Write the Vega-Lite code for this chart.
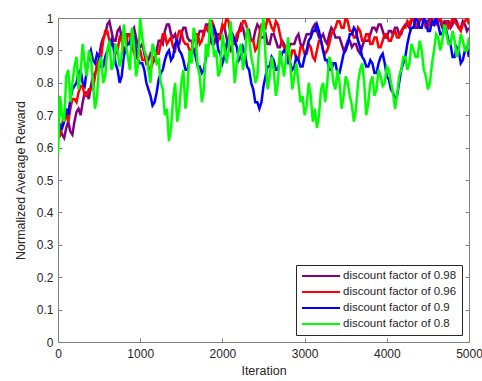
{
"$schema": "https://vega.github.io/schema/vega-lite/v6.json",
"width": 411, "height": 324,
"autosize": {"type": "none"},
"padding": {"left": 58, "top": 18, "right": 13, "bottom": 39},
"background": "white",
"config": {
  "view": {"stroke": "#808080", "strokeWidth": 1},
  "font": "Liberation Sans",
  "axis": {"labelFont": "Liberation Sans", "titleFont": "Liberation Sans", "labelFontSize": 12, "titleFontSize": 12.5, "titleFontWeight": "normal", "labelColor": "#262626", "titleColor": "#262626", "domainColor": "#808080", "tickColor": "#808080", "grid": false, "tickSize": -4}
},
"resolve": {"axis": {"x": "independent", "y": "independent"}},
"data": {"values": [
{"t":0,"s":"0.98","v":0.63},{"t":25,"s":"0.98","v":0.66},{"t":50,"s":"0.98","v":0.64},{"t":75,"s":"0.98","v":0.63},{"t":100,"s":"0.98","v":0.66},{"t":125,"s":"0.98","v":0.68},{"t":150,"s":"0.98","v":0.65},{"t":175,"s":"0.98","v":0.64},{"t":200,"s":"0.98","v":0.68},{"t":225,"s":"0.98","v":0.71},{"t":250,"s":"0.98","v":0.72},{"t":275,"s":"0.98","v":0.7},{"t":300,"s":"0.98","v":0.74},{"t":325,"s":"0.98","v":0.77},{"t":350,"s":"0.98","v":0.77},{"t":375,"s":"0.98","v":0.75},{"t":400,"s":"0.98","v":0.79},{"t":425,"s":"0.98","v":0.82},{"t":450,"s":"0.98","v":0.83},{"t":475,"s":"0.98","v":0.84},
{"t":500,"s":"0.98","v":0.88},{"t":525,"s":"0.98","v":0.92},{"t":550,"s":"0.98","v":0.94},{"t":575,"s":"0.98","v":0.95},{"t":600,"s":"0.98","v":0.98},{"t":625,"s":"0.98","v":0.99},{"t":650,"s":"0.98","v":0.96},{"t":675,"s":"0.98","v":0.93},{"t":700,"s":"0.98","v":0.93},{"t":725,"s":"0.98","v":0.96},{"t":750,"s":"0.98","v":0.97},{"t":775,"s":"0.98","v":0.94},{"t":800,"s":"0.98","v":0.95},{"t":825,"s":"0.98","v":0.95},{"t":850,"s":"0.98","v":0.92},{"t":875,"s":"0.98","v":0.92},{"t":900,"s":"0.98","v":0.96},{"t":925,"s":"0.98","v":0.97},{"t":950,"s":"0.98","v":0.94},{"t":975,"s":"0.98","v":0.91},
{"t":1000,"s":"0.98","v":0.91},{"t":1025,"s":"0.98","v":0.92},{"t":1050,"s":"0.98","v":0.89},{"t":1075,"s":"0.98","v":0.86},{"t":1100,"s":"0.98","v":0.87},{"t":1125,"s":"0.98","v":0.89},{"t":1150,"s":"0.98","v":0.88},{"t":1175,"s":"0.98","v":0.87},{"t":1200,"s":"0.98","v":0.9},{"t":1225,"s":"0.98","v":0.93},{"t":1250,"s":"0.98","v":0.93},{"t":1275,"s":"0.98","v":0.92},{"t":1300,"s":"0.98","v":0.96},{"t":1325,"s":"0.98","v":0.98},{"t":1350,"s":"0.98","v":0.98},{"t":1375,"s":"0.98","v":0.95},{"t":1400,"s":"0.98","v":0.94},{"t":1425,"s":"0.98","v":0.95},{"t":1450,"s":"0.98","v":0.92},{"t":1475,"s":"0.98","v":0.92},
{"t":1500,"s":"0.98","v":0.95},{"t":1525,"s":"0.98","v":0.97},{"t":1550,"s":"0.98","v":0.97},{"t":1575,"s":"0.98","v":0.94},{"t":1600,"s":"0.98","v":0.93},{"t":1625,"s":"0.98","v":0.93},{"t":1650,"s":"0.98","v":0.9},{"t":1675,"s":"0.98","v":0.9},{"t":1700,"s":"0.98","v":0.94},{"t":1725,"s":"0.98","v":0.96},{"t":1750,"s":"0.98","v":0.96},{"t":1775,"s":"0.98","v":0.95},{"t":1800,"s":"0.98","v":0.98},{"t":1825,"s":"0.98","v":0.98},{"t":1850,"s":"0.98","v":0.95},{"t":1875,"s":"0.98","v":0.92},{"t":1900,"s":"0.98","v":0.92},{"t":1925,"s":"0.98","v":0.95},{"t":1950,"s":"0.98","v":0.95},{"t":1975,"s":"0.98","v":0.94},
{"t":2000,"s":"0.98","v":0.97},{"t":2025,"s":"0.98","v":0.97},{"t":2050,"s":"0.98","v":0.94},{"t":2075,"s":"0.98","v":0.91},{"t":2100,"s":"0.98","v":0.9},{"t":2125,"s":"0.98","v":0.93},{"t":2150,"s":"0.98","v":0.93},{"t":2175,"s":"0.98","v":0.93},{"t":2200,"s":"0.98","v":0.96},{"t":2225,"s":"0.98","v":0.98},{"t":2250,"s":"0.98","v":0.97},{"t":2275,"s":"0.98","v":0.94},{"t":2300,"s":"0.98","v":0.95},{"t":2325,"s":"0.98","v":0.96},{"t":2350,"s":"0.98","v":0.93},{"t":2375,"s":"0.98","v":0.93},{"t":2400,"s":"0.98","v":0.96},{"t":2425,"s":"0.98","v":0.98},{"t":2450,"s":"0.98","v":0.97},{"t":2475,"s":"0.98","v":0.94},
{"t":2500,"s":"0.98","v":0.94},{"t":2525,"s":"0.98","v":0.95},{"t":2550,"s":"0.98","v":0.92},{"t":2575,"s":"0.98","v":0.92},{"t":2600,"s":"0.98","v":0.95},{"t":2625,"s":"0.98","v":0.95},{"t":2650,"s":"0.98","v":0.93},{"t":2675,"s":"0.98","v":0.91},{"t":2700,"s":"0.98","v":0.91},{"t":2725,"s":"0.98","v":0.93},{"t":2750,"s":"0.98","v":0.92},{"t":2775,"s":"0.98","v":0.9},{"t":2800,"s":"0.98","v":0.9},{"t":2825,"s":"0.98","v":0.92},{"t":2850,"s":"0.98","v":0.92},{"t":2875,"s":"0.98","v":0.92},{"t":2900,"s":"0.98","v":0.94},{"t":2925,"s":"0.98","v":0.95},{"t":2950,"s":"0.98","v":0.92},{"t":2975,"s":"0.98","v":0.91},
{"t":3000,"s":"0.98","v":0.93},{"t":3025,"s":"0.98","v":0.95},{"t":3050,"s":"0.98","v":0.95},{"t":3075,"s":"0.98","v":0.95},{"t":3100,"s":"0.98","v":0.97},{"t":3125,"s":"0.98","v":0.98},{"t":3150,"s":"0.98","v":0.96},{"t":3175,"s":"0.98","v":0.94},{"t":3200,"s":"0.98","v":0.94},{"t":3225,"s":"0.98","v":0.95},{"t":3250,"s":"0.98","v":0.93},{"t":3275,"s":"0.98","v":0.92},{"t":3300,"s":"0.98","v":0.95},{"t":3325,"s":"0.98","v":0.97},{"t":3350,"s":"0.98","v":0.96},{"t":3375,"s":"0.98","v":0.94},{"t":3400,"s":"0.98","v":0.94},{"t":3425,"s":"0.98","v":0.94},{"t":3450,"s":"0.98","v":0.92},{"t":3475,"s":"0.98","v":0.9},
{"t":3500,"s":"0.98","v":0.91},{"t":3525,"s":"0.98","v":0.93},{"t":3550,"s":"0.98","v":0.93},{"t":3575,"s":"0.98","v":0.91},{"t":3600,"s":"0.98","v":0.92},{"t":3625,"s":"0.98","v":0.92},{"t":3650,"s":"0.98","v":0.9},{"t":3675,"s":"0.98","v":0.89},{"t":3700,"s":"0.98","v":0.91},{"t":3725,"s":"0.98","v":0.93},{"t":3750,"s":"0.98","v":0.93},{"t":3775,"s":"0.98","v":0.93},{"t":3800,"s":"0.98","v":0.95},{"t":3825,"s":"0.98","v":0.97},{"t":3850,"s":"0.98","v":0.97},{"t":3875,"s":"0.98","v":0.96},{"t":3900,"s":"0.98","v":0.98},{"t":3925,"s":"0.98","v":0.98},{"t":3950,"s":"0.98","v":0.96},{"t":3975,"s":"0.98","v":0.94},
{"t":4000,"s":"0.98","v":0.94},{"t":4025,"s":"0.98","v":0.96},{"t":4050,"s":"0.98","v":0.96},{"t":4075,"s":"0.98","v":0.95},{"t":4100,"s":"0.98","v":0.97},{"t":4125,"s":"0.98","v":0.97},{"t":4150,"s":"0.98","v":0.95},{"t":4175,"s":"0.98","v":0.95},{"t":4200,"s":"0.98","v":0.97},{"t":4225,"s":"0.98","v":0.98},{"t":4250,"s":"0.98","v":0.98},{"t":4275,"s":"0.98","v":0.97},{"t":4300,"s":"0.98","v":0.99},{"t":4325,"s":"0.98","v":1.0},{"t":4350,"s":"0.98","v":0.97},{"t":4375,"s":"0.98","v":0.97},{"t":4400,"s":"0.98","v":0.99},{"t":4425,"s":"0.98","v":1.0},{"t":4450,"s":"0.98","v":1.0},{"t":4475,"s":"0.98","v":0.98},
{"t":4500,"s":"0.98","v":0.99},{"t":4525,"s":"0.98","v":1.0},{"t":4550,"s":"0.98","v":0.98},{"t":4575,"s":"0.98","v":0.98},{"t":4600,"s":"0.98","v":1.0},{"t":4625,"s":"0.98","v":1.0},{"t":4650,"s":"0.98","v":0.99},{"t":4675,"s":"0.98","v":0.97},{"t":4700,"s":"0.98","v":0.97},{"t":4725,"s":"0.98","v":0.99},{"t":4750,"s":"0.98","v":0.99},{"t":4775,"s":"0.98","v":0.97},{"t":4800,"s":"0.98","v":0.98},{"t":4825,"s":"0.98","v":1.0},{"t":4850,"s":"0.98","v":0.99},{"t":4875,"s":"0.98","v":0.97},{"t":4900,"s":"0.98","v":0.97},{"t":4925,"s":"0.98","v":0.99},{"t":4950,"s":"0.98","v":0.98},{"t":4975,"s":"0.98","v":0.96},{"t":5000,"s":"0.98","v":0.97},

{"t":0,"s":"0.96","v":0.65},{"t":25,"s":"0.96","v":0.64},{"t":50,"s":"0.96","v":0.67},{"t":75,"s":"0.96","v":0.7},{"t":100,"s":"0.96","v":0.7},{"t":125,"s":"0.96","v":0.68},{"t":150,"s":"0.96","v":0.72},{"t":175,"s":"0.96","v":0.75},{"t":200,"s":"0.96","v":0.75},{"t":225,"s":"0.96","v":0.74},{"t":250,"s":"0.96","v":0.77},{"t":275,"s":"0.96","v":0.79},{"t":300,"s":"0.96","v":0.79},{"t":325,"s":"0.96","v":0.76},{"t":350,"s":"0.96","v":0.76},{"t":375,"s":"0.96","v":0.78},{"t":400,"s":"0.96","v":0.78},{"t":425,"s":"0.96","v":0.78},{"t":450,"s":"0.96","v":0.82},{"t":475,"s":"0.96","v":0.86},
{"t":500,"s":"0.96","v":0.87},{"t":525,"s":"0.96","v":0.88},{"t":550,"s":"0.96","v":0.93},{"t":575,"s":"0.96","v":0.96},{"t":600,"s":"0.96","v":0.96},{"t":625,"s":"0.96","v":0.93},{"t":650,"s":"0.96","v":0.92},{"t":675,"s":"0.96","v":0.92},{"t":700,"s":"0.96","v":0.89},{"t":725,"s":"0.96","v":0.9},{"t":750,"s":"0.96","v":0.94},{"t":775,"s":"0.96","v":0.93},{"t":800,"s":"0.96","v":0.9},{"t":825,"s":"0.96","v":0.91},{"t":850,"s":"0.96","v":0.95},{"t":875,"s":"0.96","v":0.95},{"t":900,"s":"0.96","v":0.92},{"t":925,"s":"0.96","v":0.89},{"t":950,"s":"0.96","v":0.88},{"t":975,"s":"0.96","v":0.9},
{"t":1000,"s":"0.96","v":0.9},{"t":1025,"s":"0.96","v":0.87},{"t":1050,"s":"0.96","v":0.87},{"t":1075,"s":"0.96","v":0.88},{"t":1100,"s":"0.96","v":0.85},{"t":1125,"s":"0.96","v":0.84},{"t":1150,"s":"0.96","v":0.86},{"t":1175,"s":"0.96","v":0.88},{"t":1200,"s":"0.96","v":0.89},{"t":1225,"s":"0.96","v":0.89},{"t":1250,"s":"0.96","v":0.92},{"t":1275,"s":"0.96","v":0.95},{"t":1300,"s":"0.96","v":0.95},{"t":1325,"s":"0.96","v":0.92},{"t":1350,"s":"0.96","v":0.93},{"t":1375,"s":"0.96","v":0.94},{"t":1400,"s":"0.96","v":0.91},{"t":1425,"s":"0.96","v":0.9},{"t":1450,"s":"0.96","v":0.94},{"t":1475,"s":"0.96","v":0.96},
{"t":1500,"s":"0.96","v":0.96},{"t":1525,"s":"0.96","v":0.93},{"t":1550,"s":"0.96","v":0.92},{"t":1575,"s":"0.96","v":0.92},{"t":1600,"s":"0.96","v":0.9},{"t":1625,"s":"0.96","v":0.9},{"t":1650,"s":"0.96","v":0.93},{"t":1675,"s":"0.96","v":0.95},{"t":1700,"s":"0.96","v":0.95},{"t":1725,"s":"0.96","v":0.92},{"t":1750,"s":"0.96","v":0.93},{"t":1775,"s":"0.96","v":0.96},{"t":1800,"s":"0.96","v":0.97},{"t":1825,"s":"0.96","v":0.96},{"t":1850,"s":"0.96","v":0.99},{"t":1875,"s":"0.96","v":0.99},{"t":1900,"s":"0.96","v":0.96},{"t":1925,"s":"0.96","v":0.94},{"t":1950,"s":"0.96","v":0.93},{"t":1975,"s":"0.96","v":0.95},
{"t":2000,"s":"0.96","v":0.98},{"t":2025,"s":"0.96","v":0.97},{"t":2050,"s":"0.96","v":1.0},{"t":2075,"s":"0.96","v":0.99},{"t":2100,"s":"0.96","v":0.95},{"t":2125,"s":"0.96","v":0.92},{"t":2150,"s":"0.96","v":0.92},{"t":2175,"s":"0.96","v":0.95},{"t":2200,"s":"0.96","v":0.96},{"t":2225,"s":"0.96","v":0.96},{"t":2250,"s":"0.96","v":0.99},{"t":2275,"s":"0.96","v":0.99},{"t":2300,"s":"0.96","v":0.97},{"t":2325,"s":"0.96","v":0.94},{"t":2350,"s":"0.96","v":0.93},{"t":2375,"s":"0.96","v":0.93},{"t":2400,"s":"0.96","v":0.9},{"t":2425,"s":"0.96","v":0.91},{"t":2450,"s":"0.96","v":0.95},{"t":2475,"s":"0.96","v":0.98},
{"t":2500,"s":"0.96","v":0.98},{"t":2525,"s":"0.96","v":0.97},{"t":2550,"s":"0.96","v":1.0},{"t":2575,"s":"0.96","v":0.99},{"t":2600,"s":"0.96","v":0.97},{"t":2625,"s":"0.96","v":0.96},{"t":2650,"s":"0.96","v":0.99},{"t":2675,"s":"0.96","v":0.98},{"t":2700,"s":"0.96","v":0.95},{"t":2725,"s":"0.96","v":0.92},{"t":2750,"s":"0.96","v":0.91},{"t":2775,"s":"0.96","v":0.9},{"t":2800,"s":"0.96","v":0.88},{"t":2825,"s":"0.96","v":0.87},{"t":2850,"s":"0.96","v":0.9},{"t":2875,"s":"0.96","v":0.9},{"t":2900,"s":"0.96","v":0.87},{"t":2925,"s":"0.96","v":0.87},{"t":2950,"s":"0.96","v":0.91},{"t":2975,"s":"0.96","v":0.91},
{"t":3000,"s":"0.96","v":0.89},{"t":3025,"s":"0.96","v":0.89},{"t":3050,"s":"0.96","v":0.92},{"t":3075,"s":"0.96","v":0.91},{"t":3100,"s":"0.96","v":0.88},{"t":3125,"s":"0.96","v":0.87},{"t":3150,"s":"0.96","v":0.9},{"t":3175,"s":"0.96","v":0.93},{"t":3200,"s":"0.96","v":0.93},{"t":3225,"s":"0.96","v":0.9},{"t":3250,"s":"0.96","v":0.89},{"t":3275,"s":"0.96","v":0.9},{"t":3300,"s":"0.96","v":0.92},{"t":3325,"s":"0.96","v":0.95},{"t":3350,"s":"0.96","v":0.96},{"t":3375,"s":"0.96","v":0.97},{"t":3400,"s":"0.96","v":0.99},{"t":3425,"s":"0.96","v":0.99},{"t":3450,"s":"0.96","v":0.97},{"t":3475,"s":"0.96","v":0.97},
{"t":3500,"s":"0.96","v":1.0},{"t":3525,"s":"0.96","v":0.99},{"t":3550,"s":"0.96","v":0.96},{"t":3575,"s":"0.96","v":0.96},{"t":3600,"s":"0.96","v":0.94},{"t":3625,"s":"0.96","v":0.94},{"t":3650,"s":"0.96","v":0.97},{"t":3675,"s":"0.96","v":0.96},{"t":3700,"s":"0.96","v":0.93},{"t":3725,"s":"0.96","v":0.93},{"t":3750,"s":"0.96","v":0.95},{"t":3775,"s":"0.96","v":0.95},{"t":3800,"s":"0.96","v":0.92},{"t":3825,"s":"0.96","v":0.92},{"t":3850,"s":"0.96","v":0.94},{"t":3875,"s":"0.96","v":0.94},{"t":3900,"s":"0.96","v":0.91},{"t":3925,"s":"0.96","v":0.91},{"t":3950,"s":"0.96","v":0.93},{"t":3975,"s":"0.96","v":0.95},
{"t":4000,"s":"0.96","v":0.95},{"t":4025,"s":"0.96","v":0.93},{"t":4050,"s":"0.96","v":0.93},{"t":4075,"s":"0.96","v":0.95},{"t":4100,"s":"0.96","v":0.96},{"t":4125,"s":"0.96","v":0.94},{"t":4150,"s":"0.96","v":0.94},{"t":4175,"s":"0.96","v":0.96},{"t":4200,"s":"0.96","v":0.97},{"t":4225,"s":"0.96","v":0.97},{"t":4250,"s":"0.96","v":0.99},{"t":4275,"s":"0.96","v":0.98},{"t":4300,"s":"0.96","v":1.0},{"t":4325,"s":"0.96","v":1.0},{"t":4350,"s":"0.96","v":0.98},{"t":4375,"s":"0.96","v":0.98},{"t":4400,"s":"0.96","v":1.0},{"t":4425,"s":"0.96","v":1.0},{"t":4450,"s":"0.96","v":0.99},{"t":4475,"s":"0.96","v":0.97},
{"t":4500,"s":"0.96","v":0.97},{"t":4525,"s":"0.96","v":0.99},{"t":4550,"s":"0.96","v":1.0},{"t":4575,"s":"0.96","v":0.98},{"t":4600,"s":"0.96","v":0.98},{"t":4625,"s":"0.96","v":1.0},{"t":4650,"s":"0.96","v":1.0},{"t":4675,"s":"0.96","v":0.98},{"t":4700,"s":"0.96","v":0.99},{"t":4725,"s":"0.96","v":0.99},{"t":4750,"s":"0.96","v":0.97},{"t":4775,"s":"0.96","v":0.98},{"t":4800,"s":"0.96","v":1.0},{"t":4825,"s":"0.96","v":0.99},{"t":4850,"s":"0.96","v":0.98},{"t":4875,"s":"0.96","v":0.97},{"t":4900,"s":"0.96","v":0.96},{"t":4925,"s":"0.96","v":0.98},{"t":4950,"s":"0.96","v":0.99},{"t":4975,"s":"0.96","v":1.0},{"t":5000,"s":"0.96","v":0.98},

{"t":0,"s":"0.9","v":0.63},{"t":25,"s":"0.9","v":0.67},{"t":50,"s":"0.9","v":0.66},{"t":75,"s":"0.9","v":0.68},{"t":100,"s":"0.9","v":0.72},{"t":125,"s":"0.9","v":0.7},{"t":150,"s":"0.9","v":0.75},{"t":175,"s":"0.9","v":0.78},{"t":200,"s":"0.9","v":0.79},{"t":225,"s":"0.9","v":0.8},{"t":250,"s":"0.9","v":0.83},{"t":275,"s":"0.9","v":0.84},{"t":300,"s":"0.9","v":0.8},{"t":325,"s":"0.9","v":0.79},{"t":350,"s":"0.9","v":0.84},{"t":375,"s":"0.9","v":0.88},{"t":400,"s":"0.9","v":0.9},{"t":425,"s":"0.9","v":0.87},{"t":450,"s":"0.9","v":0.86},{"t":475,"s":"0.9","v":0.89},
{"t":500,"s":"0.9","v":0.88},{"t":525,"s":"0.9","v":0.85},{"t":550,"s":"0.9","v":0.85},{"t":575,"s":"0.9","v":0.88},{"t":600,"s":"0.9","v":0.9},{"t":625,"s":"0.9","v":0.9},{"t":650,"s":"0.9","v":0.93},{"t":675,"s":"0.9","v":0.91},{"t":700,"s":"0.9","v":0.86},{"t":725,"s":"0.9","v":0.84},{"t":750,"s":"0.9","v":0.8},{"t":775,"s":"0.9","v":0.82},{"t":800,"s":"0.9","v":0.88},{"t":825,"s":"0.9","v":0.91},{"t":850,"s":"0.9","v":0.92},{"t":875,"s":"0.9","v":0.92},{"t":900,"s":"0.9","v":0.95},{"t":925,"s":"0.9","v":0.94},{"t":950,"s":"0.9","v":0.9},{"t":975,"s":"0.9","v":0.87},
{"t":1000,"s":"0.9","v":0.86},{"t":1025,"s":"0.9","v":0.86},{"t":1050,"s":"0.9","v":0.84},{"t":1075,"s":"0.9","v":0.8},{"t":1100,"s":"0.9","v":0.78},{"t":1125,"s":"0.9","v":0.76},{"t":1150,"s":"0.9","v":0.73},{"t":1175,"s":"0.9","v":0.74},{"t":1200,"s":"0.9","v":0.77},{"t":1225,"s":"0.9","v":0.81},{"t":1250,"s":"0.9","v":0.83},{"t":1275,"s":"0.9","v":0.84},{"t":1300,"s":"0.9","v":0.87},{"t":1325,"s":"0.9","v":0.89},{"t":1350,"s":"0.9","v":0.9},{"t":1375,"s":"0.9","v":0.87},{"t":1400,"s":"0.9","v":0.88},{"t":1425,"s":"0.9","v":0.92},{"t":1450,"s":"0.9","v":0.93},{"t":1475,"s":"0.9","v":0.9},
{"t":1500,"s":"0.9","v":0.89},{"t":1525,"s":"0.9","v":0.87},{"t":1550,"s":"0.9","v":0.84},{"t":1575,"s":"0.9","v":0.84},{"t":1600,"s":"0.9","v":0.87},{"t":1625,"s":"0.9","v":0.89},{"t":1650,"s":"0.9","v":0.9},{"t":1675,"s":"0.9","v":0.88},{"t":1700,"s":"0.9","v":0.85},{"t":1725,"s":"0.9","v":0.85},{"t":1750,"s":"0.9","v":0.83},{"t":1775,"s":"0.9","v":0.84},{"t":1800,"s":"0.9","v":0.88},{"t":1825,"s":"0.9","v":0.91},{"t":1850,"s":"0.9","v":0.93},{"t":1875,"s":"0.9","v":0.94},{"t":1900,"s":"0.9","v":0.97},{"t":1925,"s":"0.9","v":0.95},{"t":1950,"s":"0.9","v":0.9},{"t":1975,"s":"0.9","v":0.89},
{"t":2000,"s":"0.9","v":0.86},{"t":2025,"s":"0.9","v":0.88},{"t":2050,"s":"0.9","v":0.92},{"t":2075,"s":"0.9","v":0.93},{"t":2100,"s":"0.9","v":0.96},{"t":2125,"s":"0.9","v":0.95},{"t":2150,"s":"0.9","v":0.93},{"t":2175,"s":"0.9","v":0.91},{"t":2200,"s":"0.9","v":0.87},{"t":2225,"s":"0.9","v":0.88},{"t":2250,"s":"0.9","v":0.91},{"t":2275,"s":"0.9","v":0.89},{"t":2300,"s":"0.9","v":0.85},{"t":2325,"s":"0.9","v":0.84},{"t":2350,"s":"0.9","v":0.8},{"t":2375,"s":"0.9","v":0.78},{"t":2400,"s":"0.9","v":0.74},{"t":2425,"s":"0.9","v":0.74},{"t":2450,"s":"0.9","v":0.72},{"t":2475,"s":"0.9","v":0.74},
{"t":2500,"s":"0.9","v":0.79},{"t":2525,"s":"0.9","v":0.82},{"t":2550,"s":"0.9","v":0.85},{"t":2575,"s":"0.9","v":0.85},{"t":2600,"s":"0.9","v":0.88},{"t":2625,"s":"0.9","v":0.87},{"t":2650,"s":"0.9","v":0.84},{"t":2675,"s":"0.9","v":0.84},{"t":2700,"s":"0.9","v":0.87},{"t":2725,"s":"0.9","v":0.89},{"t":2750,"s":"0.9","v":0.9},{"t":2775,"s":"0.9","v":0.89},{"t":2800,"s":"0.9","v":0.86},{"t":2825,"s":"0.9","v":0.86},{"t":2850,"s":"0.9","v":0.84},{"t":2875,"s":"0.9","v":0.85},{"t":2900,"s":"0.9","v":0.88},{"t":2925,"s":"0.9","v":0.87},{"t":2950,"s":"0.9","v":0.85},{"t":2975,"s":"0.9","v":0.85},
{"t":3000,"s":"0.9","v":0.88},{"t":3025,"s":"0.9","v":0.9},{"t":3050,"s":"0.9","v":0.93},{"t":3075,"s":"0.9","v":0.94},{"t":3100,"s":"0.9","v":0.96},{"t":3125,"s":"0.9","v":0.96},{"t":3150,"s":"0.9","v":0.98},{"t":3175,"s":"0.9","v":0.96},{"t":3200,"s":"0.9","v":0.93},{"t":3225,"s":"0.9","v":0.9},{"t":3250,"s":"0.9","v":0.87},{"t":3275,"s":"0.9","v":0.87},{"t":3300,"s":"0.9","v":0.84},{"t":3325,"s":"0.9","v":0.84},{"t":3350,"s":"0.9","v":0.86},{"t":3375,"s":"0.9","v":0.86},{"t":3400,"s":"0.9","v":0.83},{"t":3425,"s":"0.9","v":0.83},{"t":3450,"s":"0.9","v":0.86},{"t":3475,"s":"0.9","v":0.89},
{"t":3500,"s":"0.9","v":0.9},{"t":3525,"s":"0.9","v":0.92},{"t":3550,"s":"0.9","v":0.95},{"t":3575,"s":"0.9","v":0.95},{"t":3600,"s":"0.9","v":0.97},{"t":3625,"s":"0.9","v":0.96},{"t":3650,"s":"0.9","v":0.93},{"t":3675,"s":"0.9","v":0.91},{"t":3700,"s":"0.9","v":0.88},{"t":3725,"s":"0.9","v":0.87},{"t":3750,"s":"0.9","v":0.85},{"t":3775,"s":"0.9","v":0.85},{"t":3800,"s":"0.9","v":0.87},{"t":3825,"s":"0.9","v":0.86},{"t":3850,"s":"0.9","v":0.83},{"t":3875,"s":"0.9","v":0.83},{"t":3900,"s":"0.9","v":0.86},{"t":3925,"s":"0.9","v":0.88},{"t":3950,"s":"0.9","v":0.89},{"t":3975,"s":"0.9","v":0.86},
{"t":4000,"s":"0.9","v":0.82},{"t":4025,"s":"0.9","v":0.81},{"t":4050,"s":"0.9","v":0.78},{"t":4075,"s":"0.9","v":0.77},{"t":4100,"s":"0.9","v":0.75},{"t":4125,"s":"0.9","v":0.76},{"t":4150,"s":"0.9","v":0.8},{"t":4175,"s":"0.9","v":0.84},{"t":4200,"s":"0.9","v":0.86},{"t":4225,"s":"0.9","v":0.88},{"t":4250,"s":"0.9","v":0.92},{"t":4275,"s":"0.9","v":0.95},{"t":4300,"s":"0.9","v":0.97},{"t":4325,"s":"0.9","v":0.97},{"t":4350,"s":"0.9","v":1.0},{"t":4375,"s":"0.9","v":0.99},{"t":4400,"s":"0.9","v":0.97},{"t":4425,"s":"0.9","v":0.97},{"t":4450,"s":"0.9","v":1.0},{"t":4475,"s":"0.9","v":0.99},
{"t":4500,"s":"0.9","v":0.96},{"t":4525,"s":"0.9","v":0.96},{"t":4550,"s":"0.9","v":0.99},{"t":4575,"s":"0.9","v":0.98},{"t":4600,"s":"0.9","v":1.0},{"t":4625,"s":"0.9","v":0.98},{"t":4650,"s":"0.9","v":0.95},{"t":4675,"s":"0.9","v":0.95},{"t":4700,"s":"0.9","v":0.98},{"t":4725,"s":"0.9","v":0.96},{"t":4750,"s":"0.9","v":0.93},{"t":4775,"s":"0.9","v":0.92},{"t":4800,"s":"0.9","v":0.88},{"t":4825,"s":"0.9","v":0.88},{"t":4850,"s":"0.9","v":0.91},{"t":4875,"s":"0.9","v":0.9},{"t":4900,"s":"0.9","v":0.86},{"t":4925,"s":"0.9","v":0.87},{"t":4950,"s":"0.9","v":0.9},{"t":4975,"s":"0.9","v":0.91},{"t":5000,"s":"0.9","v":0.88},

{"t":0,"s":"0.8","v":0.58},{"t":25,"s":"0.8","v":0.76},{"t":50,"s":"0.8","v":0.7},{"t":75,"s":"0.8","v":0.68},{"t":100,"s":"0.8","v":0.82},{"t":125,"s":"0.8","v":0.84},{"t":150,"s":"0.8","v":0.74},{"t":175,"s":"0.8","v":0.8},{"t":200,"s":"0.8","v":0.85},{"t":225,"s":"0.8","v":0.88},{"t":250,"s":"0.8","v":0.78},{"t":275,"s":"0.8","v":0.83},{"t":300,"s":"0.8","v":0.92},{"t":325,"s":"0.8","v":0.86},{"t":350,"s":"0.8","v":0.82},{"t":375,"s":"0.8","v":0.9},{"t":400,"s":"0.8","v":0.88},{"t":425,"s":"0.8","v":0.8},{"t":450,"s":"0.8","v":0.72},{"t":475,"s":"0.8","v":0.76},
{"t":500,"s":"0.8","v":0.86},{"t":525,"s":"0.8","v":0.88},{"t":550,"s":"0.8","v":0.8},{"t":575,"s":"0.8","v":0.82},{"t":600,"s":"0.8","v":0.9},{"t":625,"s":"0.8","v":0.93},{"t":650,"s":"0.8","v":0.84},{"t":675,"s":"0.8","v":0.86},{"t":700,"s":"0.8","v":0.92},{"t":725,"s":"0.8","v":0.9},{"t":750,"s":"0.8","v":0.85},{"t":775,"s":"0.8","v":0.88},{"t":800,"s":"0.8","v":0.98},{"t":825,"s":"0.8","v":0.92},{"t":850,"s":"0.8","v":0.88},{"t":875,"s":"0.8","v":0.84},{"t":900,"s":"0.8","v":0.97},{"t":925,"s":"0.8","v":0.92},{"t":950,"s":"0.8","v":0.82},{"t":975,"s":"0.8","v":0.86},
{"t":1000,"s":"0.8","v":1.0},{"t":1025,"s":"0.8","v":0.94},{"t":1050,"s":"0.8","v":0.9},{"t":1075,"s":"0.8","v":0.88},{"t":1100,"s":"0.8","v":0.84},{"t":1125,"s":"0.8","v":0.8},{"t":1150,"s":"0.8","v":0.92},{"t":1175,"s":"0.8","v":0.9},{"t":1200,"s":"0.8","v":0.86},{"t":1225,"s":"0.8","v":0.87},{"t":1250,"s":"0.8","v":0.8},{"t":1275,"s":"0.8","v":0.78},{"t":1300,"s":"0.8","v":0.7},{"t":1325,"s":"0.8","v":0.72},{"t":1350,"s":"0.8","v":0.62},{"t":1375,"s":"0.8","v":0.66},{"t":1400,"s":"0.8","v":0.75},{"t":1425,"s":"0.8","v":0.8},{"t":1450,"s":"0.8","v":0.68},{"t":1475,"s":"0.8","v":0.72},
{"t":1500,"s":"0.8","v":0.8},{"t":1525,"s":"0.8","v":0.84},{"t":1550,"s":"0.8","v":0.72},{"t":1575,"s":"0.8","v":0.78},{"t":1600,"s":"0.8","v":0.9},{"t":1625,"s":"0.8","v":0.86},{"t":1650,"s":"0.8","v":0.97},{"t":1675,"s":"0.8","v":0.94},{"t":1700,"s":"0.8","v":0.85},{"t":1725,"s":"0.8","v":0.82},{"t":1750,"s":"0.8","v":0.74},{"t":1775,"s":"0.8","v":0.78},{"t":1800,"s":"0.8","v":0.92},{"t":1825,"s":"0.8","v":0.88},{"t":1850,"s":"0.8","v":1.0},{"t":1875,"s":"0.8","v":0.95},{"t":1900,"s":"0.8","v":0.88},{"t":1925,"s":"0.8","v":0.9},{"t":1950,"s":"0.8","v":0.82},{"t":1975,"s":"0.8","v":0.84},
{"t":2000,"s":"0.8","v":0.95},{"t":2025,"s":"0.8","v":0.91},{"t":2050,"s":"0.8","v":0.86},{"t":2075,"s":"0.8","v":0.9},{"t":2100,"s":"0.8","v":0.99},{"t":2125,"s":"0.8","v":0.9},{"t":2150,"s":"0.8","v":0.8},{"t":2175,"s":"0.8","v":0.86},{"t":2200,"s":"0.8","v":0.9},{"t":2225,"s":"0.8","v":0.92},{"t":2250,"s":"0.8","v":0.84},{"t":2275,"s":"0.8","v":0.88},{"t":2300,"s":"0.8","v":0.97},{"t":2325,"s":"0.8","v":0.94},{"t":2350,"s":"0.8","v":0.88},{"t":2375,"s":"0.8","v":0.85},{"t":2400,"s":"0.8","v":0.8},{"t":2425,"s":"0.8","v":0.82},{"t":2450,"s":"0.8","v":0.92},{"t":2475,"s":"0.8","v":0.96},
{"t":2500,"s":"0.8","v":1.0},{"t":2525,"s":"0.8","v":0.88},{"t":2550,"s":"0.8","v":0.78},{"t":2575,"s":"0.8","v":0.82},{"t":2600,"s":"0.8","v":0.88},{"t":2625,"s":"0.8","v":0.84},{"t":2650,"s":"0.8","v":0.76},{"t":2675,"s":"0.8","v":0.8},{"t":2700,"s":"0.8","v":0.9},{"t":2725,"s":"0.8","v":0.86},{"t":2750,"s":"0.8","v":0.82},{"t":2775,"s":"0.8","v":0.88},{"t":2800,"s":"0.8","v":0.94},{"t":2825,"s":"0.8","v":0.86},{"t":2850,"s":"0.8","v":0.78},{"t":2875,"s":"0.8","v":0.82},{"t":2900,"s":"0.8","v":0.86},{"t":2925,"s":"0.8","v":0.8},{"t":2950,"s":"0.8","v":0.74},{"t":2975,"s":"0.8","v":0.76},
{"t":3000,"s":"0.8","v":0.7},{"t":3025,"s":"0.8","v":0.73},{"t":3050,"s":"0.8","v":0.8},{"t":3075,"s":"0.8","v":0.76},{"t":3100,"s":"0.8","v":0.68},{"t":3125,"s":"0.8","v":0.72},{"t":3150,"s":"0.8","v":0.66},{"t":3175,"s":"0.8","v":0.7},{"t":3200,"s":"0.8","v":0.78},{"t":3225,"s":"0.8","v":0.8},{"t":3250,"s":"0.8","v":0.74},{"t":3275,"s":"0.8","v":0.8},{"t":3300,"s":"0.8","v":0.88},{"t":3325,"s":"0.8","v":0.86},{"t":3350,"s":"0.8","v":0.8},{"t":3375,"s":"0.8","v":0.78},{"t":3400,"s":"0.8","v":0.84},{"t":3425,"s":"0.8","v":0.8},{"t":3450,"s":"0.8","v":0.72},{"t":3475,"s":"0.8","v":0.76},
{"t":3500,"s":"0.8","v":0.82},{"t":3525,"s":"0.8","v":0.8},{"t":3550,"s":"0.8","v":0.76},{"t":3575,"s":"0.8","v":0.73},{"t":3600,"s":"0.8","v":0.68},{"t":3625,"s":"0.8","v":0.72},{"t":3650,"s":"0.8","v":0.8},{"t":3675,"s":"0.8","v":0.84},{"t":3700,"s":"0.8","v":0.86},{"t":3725,"s":"0.8","v":0.8},{"t":3750,"s":"0.8","v":0.7},{"t":3775,"s":"0.8","v":0.74},{"t":3800,"s":"0.8","v":0.8},{"t":3825,"s":"0.8","v":0.82},{"t":3850,"s":"0.8","v":0.76},{"t":3875,"s":"0.8","v":0.78},{"t":3900,"s":"0.8","v":0.84},{"t":3925,"s":"0.8","v":0.82},{"t":3950,"s":"0.8","v":0.79},{"t":3975,"s":"0.8","v":0.8},
{"t":4000,"s":"0.8","v":0.85},{"t":4025,"s":"0.8","v":0.84},{"t":4050,"s":"0.8","v":0.8},{"t":4075,"s":"0.8","v":0.77},{"t":4100,"s":"0.8","v":0.72},{"t":4125,"s":"0.8","v":0.76},{"t":4150,"s":"0.8","v":0.82},{"t":4175,"s":"0.8","v":0.84},{"t":4200,"s":"0.8","v":0.88},{"t":4225,"s":"0.8","v":0.88},{"t":4250,"s":"0.8","v":0.84},{"t":4275,"s":"0.8","v":0.86},{"t":4300,"s":"0.8","v":0.92},{"t":4325,"s":"0.8","v":0.9},{"t":4350,"s":"0.8","v":0.88},{"t":4375,"s":"0.8","v":0.88},{"t":4400,"s":"0.8","v":0.93},{"t":4425,"s":"0.8","v":0.9},{"t":4450,"s":"0.8","v":0.84},{"t":4475,"s":"0.8","v":0.82},
{"t":4500,"s":"0.8","v":0.78},{"t":4525,"s":"0.8","v":0.8},{"t":4550,"s":"0.8","v":0.86},{"t":4575,"s":"0.8","v":0.9},{"t":4600,"s":"0.8","v":0.95},{"t":4625,"s":"0.8","v":0.94},{"t":4650,"s":"0.8","v":0.9},{"t":4675,"s":"0.8","v":0.93},{"t":4700,"s":"0.8","v":0.98},{"t":4725,"s":"0.8","v":0.95},{"t":4750,"s":"0.8","v":0.92},{"t":4775,"s":"0.8","v":0.92},{"t":4800,"s":"0.8","v":0.96},{"t":4825,"s":"0.8","v":0.93},{"t":4850,"s":"0.8","v":0.88},{"t":4875,"s":"0.8","v":0.9},{"t":4900,"s":"0.8","v":0.95},{"t":4925,"s":"0.8","v":0.93},{"t":4950,"s":"0.8","v":0.9},{"t":4975,"s":"0.8","v":0.9},{"t":5000,"s":"0.8","v":0.94}
]},
"layer": [
 {
  "mark": {"type": "line", "strokeWidth": 2.5, "clip": true},
  "encoding": {
   "x": {"field": "t", "type": "quantitative", "scale": {"domain": [0, 5000], "nice": false, "zero": false},
         "axis": {"title": "Iteration", "values": [0,1000,2000,3000,4000,5000], "format": "d", "labelAlign": "center", "labelFlush": false, "labelPadding": 10, "titlePadding": 5}},
   "y": {"field": "v", "type": "quantitative", "scale": {"domain": [0, 1], "nice": false},
         "axis": {"title": "Normalized Average Reward", "values": [0,0.1,0.2,0.3,0.4,0.5,0.6,0.7,0.8,0.9,1], "format": "~g", "labelFlush": false, "labelPadding": 9, "titlePadding": 9}},
   "color": {"field": "s", "type": "nominal",
     "scale": {"domain": ["0.98", "0.96", "0.9", "0.8"], "range": ["#800080", "#ff0000", "#0000ff", "#00ff00"]},
     "legend": {"orient": "none", "legendX": 238, "legendY": 247, "title": null, "symbolType": "M-4,0H4", "symbolSize": 90, "symbolStrokeWidth": 2, "symbolOffset": 14,
       "labelFontSize": 11.5, "labelColor": "#262626", "labelExpr": "'discount factor of ' + datum.label", "labelLimit": 250,
       "strokeColor": "#262626", "fillColor": "white", "padding": 5, "labelOffset": 16, "rowPadding": 4}}
  }
 },
 {
  "mark": {"type": "point", "opacity": 0},
  "encoding": {
   "x": {"field": "t", "type": "quantitative", "axis": {"orient": "top", "labels": false, "title": null, "values": [0,1000,2000,3000,4000,5000]}},
   "y": {"field": "v", "type": "quantitative", "axis": {"orient": "right", "labels": false, "title": null, "values": [0,0.1,0.2,0.3,0.4,0.5,0.6,0.7,0.8,0.9,1]}}
  }
 }
]
}
